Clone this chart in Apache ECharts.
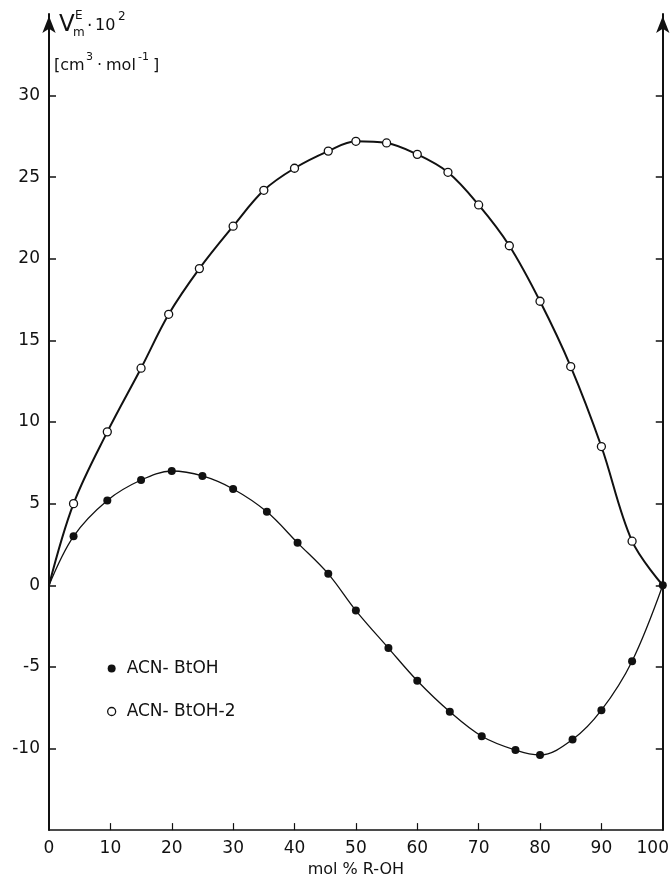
<!DOCTYPE html>
<html><head><meta charset="utf-8">
<script src="https://cdn.jsdelivr.net/npm/echarts@6/dist/echarts.min.js"></script>
<style>html,body{margin:0;padding:0;background:#fff}#c{width:672px;height:883px}</style>
</head><body><div id="c"></div>
<script>
// mol % R-OH
const xOpen = [0, 4, 9.5, 15, 19.5, 24.5, 30, 35, 40, 45.5, 50, 55, 60, 65, 70, 75, 80, 85, 90, 95, 100];
const yOpen = [0, 5.0, 9.4, 13.3, 16.6, 19.4, 22.0, 24.2, 25.55, 26.6, 27.2, 27.1, 26.4, 25.3, 23.3, 20.8, 17.4, 13.4, 8.5, 2.7, 0];
const xFill = [0, 4, 9.5, 15, 20, 25, 30, 35.5, 40.5, 45.5, 50, 55.3, 60, 65.3, 70.5, 76, 80, 85.3, 90, 95, 100];
const yFill = [0, 3.0, 5.2, 6.45, 7.0, 6.7, 5.9, 4.5, 2.6, 0.7, -1.55, -3.85, -5.85, -7.75, -9.25, -10.1, -10.4, -9.45, -7.65, -4.65, 0];
const seriesNames = ['ACN- BtOH', 'ACN- BtOH-2'];
const xTickLabels = [0, 10, 20, 30, 40, 50, 60, 70, 80, 90, 100];
const xTicks = [10, 20, 30, 40, 50, 60, 70, 80, 90];
const yTickLabels = [-10, -5, 0, 5, 10, 15, 20, 25, 30];
const xTitle = 'mol % R-OH';

const F = 'DejaVu Sans';
const INK = '#111';
function pairs(xs, ys, hide) {
  return xs.map((x, i) => hide.includes(i) ? {value: [x, ys[i]], symbol: 'none'} : [x, ys[i]]);
}
const chart = echarts.init(document.getElementById('c'), null, {renderer: 'canvas'});
const yAxisBase = {
  type: 'value', min: -15, max: 35, interval: 5,
  splitLine: {show: false},
  axisLine: {show: true, onZero: false, lineStyle: {color: INK, width: 2}, symbol: ['none', 'arrow'], symbolSize: [10, 17], symbolOffset: [0, -2]},
  axisTick: {show: true, inside: true, length: 7, customValues: yTickLabels, lineStyle: {color: INK, width: 1.5}}
};
const txt = (left, top, text, size) => ({type: 'text', left: left, top: top, style: {text: text, fontFamily: F, fontSize: size, fill: INK}});
chart.setOption({
  animation: false,
  backgroundColor: '#fff',
  grid: {left: 49, right: 8, top: 14, bottom: 45},
  xAxis: {
    type: 'value', min: 0, max: 100, interval: 10,
    splitLine: {show: false},
    axisLine: {show: true, onZero: false, lineStyle: {color: INK, width: 1.5}},
    axisTick: {show: true, inside: true, length: 7, customValues: xTicks, lineStyle: {color: INK, width: 1.2}},
    axisLabel: {customValues: xTickLabels, margin: 10, color: INK, fontFamily: F, fontSize: 17,
      formatter: v => v === 100 ? '{r|100}' : String(v),
      rich: {r: {fontFamily: F, fontSize: 17, color: INK, padding: [0, 20, 0, 0]}}},
    name: xTitle, nameLocation: 'middle', nameGap: 28,
    nameTextStyle: {color: INK, fontFamily: F, fontSize: 16}
  },
  yAxis: [
    Object.assign({}, yAxisBase, {position: 'left',
      axisLabel: {customValues: yTickLabels, margin: 9, color: INK, fontFamily: F, fontSize: 17}}),
    Object.assign({}, yAxisBase, {position: 'right', axisLabel: {show: false}})
  ],
  legend: {
    orient: 'vertical', left: 102, top: 655, itemGap: 26, itemWidth: 8, itemHeight: 8, icon: 'circle',
    textStyle: {color: INK, fontFamily: F, fontSize: 17, padding: [0, 0, 0, 6]},
    data: [
      {name: seriesNames[0], itemStyle: {color: INK, borderWidth: 0}},
      {name: seriesNames[1], itemStyle: {color: '#fff', borderColor: INK, borderWidth: 1.3}}
    ]
  },
  graphic: [
    txt(59, 14, 'V', 23),
    txt(75, 10, 'E', 12),
    txt(73, 27, 'm', 12),
    txt(87, 18, '·', 17),
    txt(95, 18, '10', 16),
    txt(118, 11, '2', 12),
    txt(54, 58, '[cm', 16),
    txt(86, 52, '3', 11),
    txt(97, 58, '·', 16),
    txt(106, 58, 'mol', 16),
    txt(138, 52, '-1', 11),
    txt(153, 58, ']', 16)
  ],
  series: [
    {
      name: seriesNames[0], type: 'line', smooth: 0.35,
      data: pairs(xFill, yFill, [0]),
      symbol: 'circle', symbolSize: 8,
      lineStyle: {color: INK, width: 1.3},
      itemStyle: {color: INK, borderWidth: 0},
      z: 3
    },
    {
      name: seriesNames[1], type: 'line', smooth: 0.35,
      data: pairs(xOpen, yOpen, [0, xOpen.length - 1]),
      symbol: 'circle', symbolSize: 8,
      lineStyle: {color: INK, width: 2},
      itemStyle: {color: '#fff', borderColor: INK, borderWidth: 1.3},
      z: 2
    }
  ]
});
</script></body></html>
